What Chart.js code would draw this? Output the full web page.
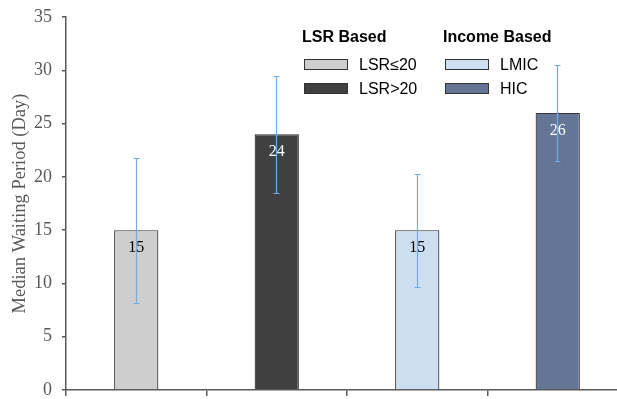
<!DOCTYPE html>
<html>
<head>
<meta charset="utf-8">
<script src="https://cdn.jsdelivr.net/npm/chart.js@4"></script>
<style>
  html, body { margin: 0; padding: 0; background: #fff; overflow: hidden; }
  #wrap { position: relative; width: 630px; height: 399px; }
  .lg { position: absolute; font-family: "Liberation Sans", Arial, sans-serif; color: #000; white-space: nowrap; }
  .hd { font-weight: bold; font-size: 16px; line-height: 18px; }
  .it { font-size: 16px; line-height: 18px; }
  .bx { position: absolute; width: 42px; height: 9px; border: 1.3px solid #333; }
</style>
</head>
<body>
<div id="wrap"><canvas id="c"></canvas></div>
<script>
// Median waiting period by group
const categories = ["LSR≤20", "LSR>20", "LMIC", "HIC"];
const medians = [15, 24, 15, 26];
const errLow = [8.2, 18.5, 9.7, 21.5];
const errHigh = [21.8, 29.5, 20.3, 30.5];
const barColors = ["#cecece", "#404040", "#cddef0", "#647596"];
const labelColors = ["#000000", "#ffffff", "#000000", "#ffffff"];
const groupTitles = ["LSR Based", "Income Based"];
const yTicks = [0, 5, 10, 15, 20, 25, 30, 35];

const axisColor = "#595959";
const serif = "'Liberation Serif', 'Times New Roman', serif";

const errorBars = {
  id: "errorBars",
  afterDatasetsDraw(chart) {
    const ctx = chart.ctx;
    const meta = chart.getDatasetMeta(0);
    const y = chart.scales.y;
    ctx.save();
    // value labels inside the bars
    ctx.font = "16px " + serif;
    ctx.textAlign = "center";
    ctx.textBaseline = "middle";
    meta.data.forEach((bar, i) => {
      ctx.fillStyle = labelColors[i];
      ctx.fillText(String(medians[i]), bar.x, bar.y + 18);
    });
    // error whiskers
    ctx.strokeStyle = "#72aae2";
    ctx.lineWidth = 1.2;
    meta.data.forEach((bar, i) => {
      const x = Math.floor(bar.x) + 0.5;
      const yt = Math.round(y.getPixelForValue(errHigh[i])) + 0.5;
      const yb = Math.round(y.getPixelForValue(errLow[i])) + 0.5;
      ctx.beginPath();
      ctx.moveTo(x, yt); ctx.lineTo(x, yb);
      ctx.moveTo(x - 3, yt); ctx.lineTo(x + 3, yt);
      ctx.moveTo(x - 3, yb); ctx.lineTo(x + 3, yb);
      ctx.stroke();
    });
    ctx.restore();
  }
};

const chart = new Chart(document.getElementById("c"), {
  type: "bar",
  data: {
    labels: categories,
    datasets: [{
      data: medians,
      backgroundColor: barColors,
      borderColor: "#333333",
      borderWidth: 1.2,
      barPercentage: 0.315,
      categoryPercentage: 1.0
    }]
  },
  options: {
    responsive: true,
    maintainAspectRatio: false,
    animation: false,
    layout: { padding: { top: 17, right: 2, left: 0, bottom: 0 } },
    plugins: { legend: { display: false }, tooltip: { enabled: false } },
    scales: {
      x: {
        offset: true,
        ticks: { display: false },
        grid: { display: true, offset: true, drawOnChartArea: false, drawTicks: true, tickLength: 6, color: axisColor, lineWidth: 1.5 },
        border: { color: axisColor, width: 1.5 },
        afterFit(s) { s.height = 9; s.paddingLeft = 0; s.paddingRight = 0; }
      },
      y: {
        min: 0, max: 35,
        afterBuildTicks(s) { s.ticks = yTicks.map(v => ({ value: v })); },
        ticks: {
          padding: 10,
          color: "#595959",
          font: { family: serif, size: 18 }
        },
        grid: { drawOnChartArea: false, drawTicks: true, tickLength: 4, color: axisColor, lineWidth: 1.5 },
        border: { color: axisColor, width: 1.5 },
        title: {
          display: true,
          text: "Median Waiting Period (Day)",
          color: "#595959",
          font: { family: serif, size: 18.5 },
          padding: { top: 9, bottom: 0 }
        },
        afterFit(s) { s.width = 66; s.paddingTop = 0; s.paddingBottom = 0; }
      }
    }
  },
  plugins: [errorBars]
});

// Grouped legend built from the same arrays
const wrap = document.getElementById("wrap");
const cols = [302, 443];
groupTitles.forEach((t, g) => {
  const h = document.createElement("div");
  h.className = "lg hd";
  h.textContent = t;
  h.style.left = cols[g] + "px";
  h.style.top = "28px";
  wrap.appendChild(h);
  [0, 1].forEach(r => {
    const i = g * 2 + r;
    const b = document.createElement("div");
    b.className = "bx";
    b.style.background = barColors[i];
    b.style.left = (cols[g] + 2) + "px";
    b.style.top = (59 + r * 24) + "px";
    wrap.appendChild(b);
    const l = document.createElement("div");
    l.className = "lg it";
    l.textContent = categories[i];
    l.style.left = (cols[g] + 57) + "px";
    l.style.top = (56 + r * 24) + "px";
    wrap.appendChild(l);
  });
});
</script>
</body>
</html>
